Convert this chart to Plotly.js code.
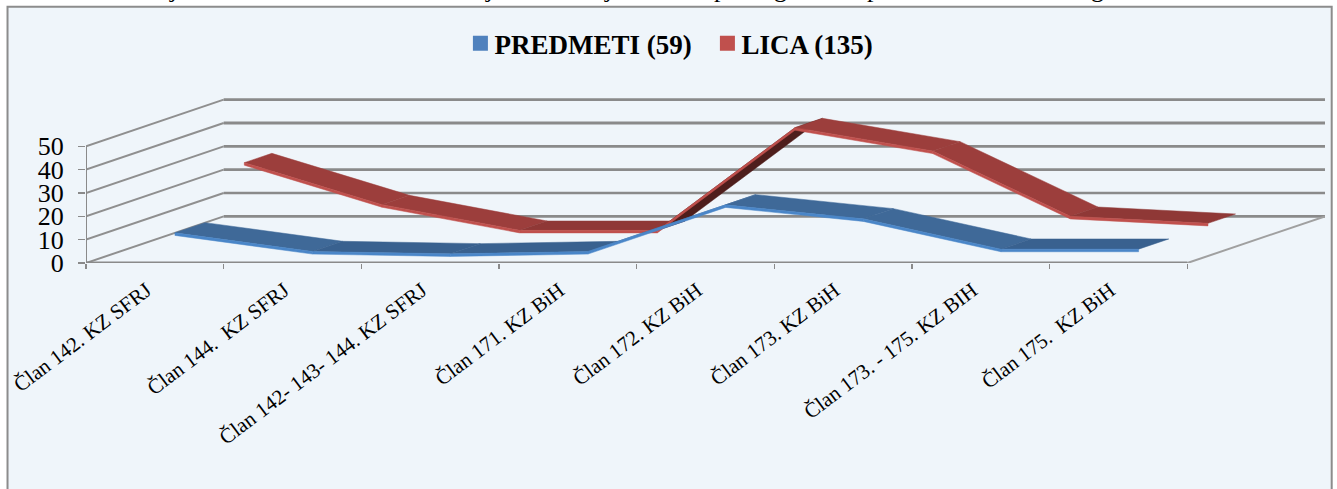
<!DOCTYPE html>
<html><head><meta charset="utf-8">
<script src="https://cdn.plot.ly/plotly-3.0.1.min.js"></script>
<style>html,body{margin:0;padding:0;background:#fff;overflow:hidden}#c{width:1337px;height:489px}</style>
</head><body><div id="c"></div>
<script>
const categories = ['Član 142. KZ SFRJ','Član 144.  KZ SFRJ','Član 142- 143- 144. KZ SFRJ','Član 171. KZ BiH','Član 172. KZ BiH','Član 173. KZ BiH','Član 173. - 175. KZ BIH','Član 175.  KZ BiH'];
const predmeti = [10,2,1,2,22,16,3,3];
const lica = [30,12,1,1,45,35,7,4];
const yTicks = [0,10,20,30,40,50];
const clippedGlyphs = ['j','j','j','p','g','p','g'];
const clippedGlyphX = [173,489,608,720,780,873,1097];

const W=1337,H=489, L=85.5, STEP=137.7, FLOOR=263, UNIT=2.33, YMAX=72;
const DEPTH_X=1, DEPTH_Y=20;           // oblique projection, in axis units per full depth
const R=W-(L+STEP*9), T=FLOOR-UNIT*YMAX, B=H-FLOOR;
const proj=(i,v,d)=>[i+0.5+d*DEPTH_X, v+d*DEPTH_Y];
const grid='#8a8a8a';
const traces=[];
function line(pts,color,width){
  traces.push({x:pts.map(p=>p[0]),y:pts.map(p=>p[1]),mode:'lines',line:{color,width},
    showlegend:false,hoverinfo:'skip',cliponaxis:false,type:'scatter'});
}
function poly(pts,color){
  traces.push({x:pts.map(p=>p[0]),y:pts.map(p=>p[1]),mode:'lines',fill:'toself',fillcolor:color,
    line:{color,width:0.5},showlegend:false,hoverinfo:'skip',cliponaxis:false,type:'scatter'});
}
// walls and floor
yTicks.forEach(v=>{
  line([[0,v],[DEPTH_X,v+DEPTH_Y]],'#8f8f8f',2);
  line([[DEPTH_X,v+DEPTH_Y],[8+DEPTH_X,v+DEPTH_Y]],grid,v===40?3:2.6);
});
line([[0,0],[0,50]],'#8a8a8a',2);
line([[8,0],[8+DEPTH_X,DEPTH_Y]],'#a0a0a0',2);
line([[0,0],[8,0]],grid,3);

function ribbon(vals,d0,d1,top,topFlat,under,strip){
  for(let i=0;i<vals.length-1;i++){
    const a=proj(i,vals[i],d0),b=proj(i+1,vals[i+1],d0),c=proj(i+1,vals[i+1],d1),e=proj(i,vals[i],d1);
    const slope=(vals[i+1]-vals[i]);
    const col = slope>DEPTH_Y ? under : (Math.abs(slope)<4 ? topFlat : top);
    poly([a,b,c,e,a],col);
  }
  for(let i=0;i<vals.length-1;i++){
    const a=proj(i,vals[i],d0),b=proj(i+1,vals[i+1],d0);
    const t=1.1;
    poly([a,b,[b[0],b[1]-t],[a[0],a[1]-t],a],strip);
  }
}
ribbon(lica,0.65,0.85,'#9c3e3c','#8f3836','#4e1e1c','#c0504d');
ribbon(predmeti,0.146,0.365,'#3f6998','#39618f','#2a4a70','#4a86c8');

// legend keys
[['PREDMETI (59)','#4f81bd'],['LICA (135)','#c0504d']].forEach(([n,c])=>{
  traces.push({x:[null],y:[null],name:n,mode:'markers',marker:{symbol:'square',size:15,color:c},type:'scatter'});
});

const px=x=>(x-L)/(STEP*9), py=y=>(FLOOR-y)/(FLOOR-T);
const annotations=clippedGlyphs.map((g,i)=>({text:g,xref:'paper',yref:'paper',x:px(clippedGlyphX[i]),y:py(5),
  xanchor:'center',yanchor:'bottom',showarrow:false,font:{family:'Liberation Serif',size:26,color:'#000'}}));

const layout={
  width:W,height:H,margin:{l:L,r:R,t:T,b:B,pad:0,autoexpand:false},
  paper_bgcolor:'#ffffff',plot_bgcolor:'rgba(0,0,0,0)',
  font:{family:'Liberation Serif',color:'#000'},
  xaxis:{range:[0,9],showgrid:false,zeroline:false,showline:false,
    tickmode:'array',tickvals:categories.map((_,i)=>i+0.44),ticktext:categories,tickangle:-37,
    ticks:'outside',ticklen:6,tickcolor:'rgba(0,0,0,0)',tickfont:{size:21,family:'Liberation Serif'},
    minor:{tickmode:'array',tickvals:[0,1,2,3,4,5,6,7,8],ticks:'outside',ticklen:5,tickcolor:'#8a8a8a',tickwidth:1.5,showgrid:false}},
  yaxis:{range:[0,YMAX],showgrid:false,zeroline:false,showline:false,
    tickmode:'array',tickvals:yTicks,ticks:'outside',ticklen:7,tickcolor:'#8a8a8a',tickwidth:1.5,ticklabelstandoff:9,
    tickfont:{size:26,family:'Liberation Serif'}},
  showlegend:true,
  legend:{orientation:'h',x:px(454),y:py(44),xanchor:'left',yanchor:'middle',bgcolor:'rgba(0,0,0,0)',entrywidth:202,entrywidthmode:'pixels',
    font:{size:27,family:'Liberation Serif',weight:'bold'},itemwidth:30,traceorder:'normal',itemclick:false,itemdoubleclick:false},
  shapes:[{type:'rect',xref:'paper',yref:'paper',x0:px(7),x1:px(1331.5),y0:py(495),y1:py(7),
    line:{color:'#8c8c8c',width:2},fillcolor:'#eff5fa',layer:'below'}],
  annotations
};
Plotly.newPlot('c',traces,layout,{displayModeBar:false,staticPlot:true}).then(()=>{
  document.querySelectorAll('.legend .legendsymbols').forEach(s=>s.setAttribute('transform','translate(6,0)'));
});
</script></body></html>
